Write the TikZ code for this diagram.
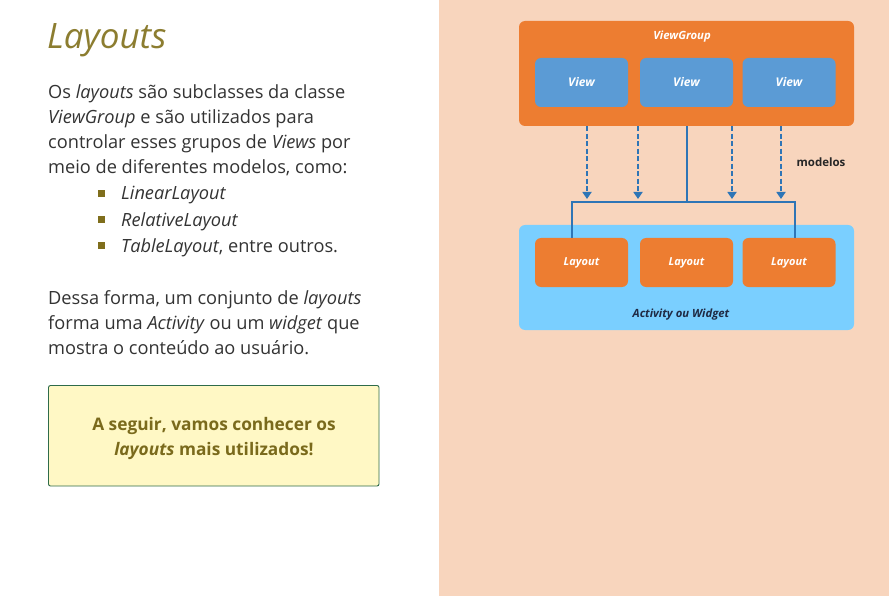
\documentclass[tikz,border=0pt]{standalone}
\usepackage{fontspec}
\setmainfont{Open Sans}
\usetikzlibrary{arrows.meta}
\definecolor{panel}{HTML}{F8D5BD}
\definecolor{titlecol}{HTML}{8C7D30}
\definecolor{bodycol}{HTML}{333333}
\definecolor{bulletcol}{HTML}{7F6E1C}
\definecolor{notefill}{HTML}{FFF8C5}
\definecolor{noteline}{HTML}{2E6B4A}
\definecolor{notetext}{HTML}{7A6A1C}
\definecolor{orangebox}{HTML}{ED7D31}
\definecolor{viewblue}{HTML}{5B9BD5}
\definecolor{skyblue}{HTML}{7ACFFF}
\definecolor{linkblue}{HTML}{2E75B6}
\definecolor{darktext}{HTML}{1F2A44}
\tikzset{
  bodyline/.style={anchor=base west, inner sep=0pt, text=bodycol,
    font=\fontsize{18.2}{22}\selectfont},
  bulletsq/.style={fill=bulletcol, minimum size=7pt, inner sep=0pt},
  notetxt/.style={anchor=base, inner sep=0pt, text=notetext,
    font=\fontsize{17.3}{21}\selectfont\bfseries},
  groupbox/.style={rounded corners=6pt, inner sep=0pt},
  itembox/.style={rounded corners=6pt, inner sep=0pt, minimum width=93pt,
    minimum height=49pt, text=white},
  viewlbl/.style={font=\fontsize{12}{14}\selectfont\bfseries\itshape},
  layoutlbl/.style={font=\fontsize{11}{13}\selectfont\bfseries\itshape},
  solidlink/.style={draw=linkblue, line width=1.8pt},
  dashlink/.style={draw=linkblue, line width=1.8pt, dash pattern=on 5pt off 2.5pt,
    -{Triangle[width=9pt,length=7pt,fill=linkblue]}},
}
\begin{document}
\begin{tikzpicture}[x=1pt,y=-1pt]
\useasboundingbox (0,0) rectangle (889,596);
\fill[white] (0,0) rectangle (439,596);
\fill[panel] (439,0) rectangle (889,596);

% ---- text column ----
\node[anchor=base west, inner sep=0pt, text=titlecol,
  font=\fontsize{35}{42}\selectfont\itshape] (title) at (47,49) {Layouts};

\node[bodyline] (p1) at (48,99) {Os \textit{layouts} são subclasses da classe};
\node[bodyline] (p2) at (48,124) {\textit{ViewGroup} e são utilizados para};
\node[bodyline] (p3) at (48,149) {controlar esses grupos de \textit{Views} por};
\node[bodyline] (p4) at (48,174) {meio de diferentes modelos, como:};

\node[bulletsq] (b1) at (101.5,193.5) {};
\node[bulletsq] (b2) at (101.5,220) {};
\node[bulletsq] (b3) at (101.5,246) {};
\node[bodyline] (l1) at (121,200) {\textit{LinearLayout}};
\node[bodyline] (l2) at (121,226.5) {\textit{RelativeLayout}};
\node[bodyline] (l3) at (121,252.5) {\textit{TableLayout}, entre outros.};

\node[bodyline] (q1) at (48,304) {Dessa forma, um conjunto de \textit{layouts}};
\node[bodyline] (q2) at (48,329) {forma uma \textit{Activity} ou um \textit{widget} que};
\node[bodyline] (q3) at (48,354) {mostra o conteúdo ao usuário.};

\draw[fill=notefill, draw=noteline, line width=0.9pt, rounded corners=2pt]
  (48.5,385.5) rectangle (379,486);
\node[notetxt] (n1) at (214,430) {A seguir, vamos conhecer os};
\node[notetxt] (n2) at (214,455) {\textit{layouts} mais utilizados!};

% ---- diagram ----
\node[groupbox, fill=orangebox, minimum width=335pt, minimum height=105pt]
  (vg) at (686.5,73.5) {};
\node[text=white, font=\fontsize{11.3}{13}\selectfont\bfseries\itshape, inner sep=0pt]
  (vglabel) at (682,37) {ViewGroup};
\node[itembox, viewlbl, fill=viewblue] (v1) at (581.5,82.5) {View};
\node[itembox, viewlbl, fill=viewblue] (v2) at (686.5,82.5) {View};
\node[itembox, viewlbl, fill=viewblue] (v3) at (789,82.5) {View};

\node[groupbox, fill=skyblue, minimum width=335pt, minimum height=105pt]
  (aw) at (686.5,277.5) {};
\node[itembox, layoutlbl, fill=orangebox] (lo1) at (581.5,262.5) {Layout};
\node[itembox, layoutlbl, fill=orangebox] (lo2) at (686.5,262.5) {Layout};
\node[itembox, layoutlbl, fill=orangebox] (lo3) at (789,262.5) {Layout};
\node[text=darktext, font=\fontsize{11.3}{13}\selectfont\bfseries\itshape, inner sep=0pt]
  (awlabel) at (681,315) {Activity ou Widget};

\node[text=black!85, font=\fontsize{11.5}{13}\selectfont\bfseries, inner sep=0pt]
  (modelos) at (821,162) {modelos};

% trunk from the group down to the layouts
\coordinate (split) at (687,202);
\draw[solidlink] (vg.south -| split) -- (split);
\draw[solidlink] (lo1.north -| 572,0) -- (572,202) -- (795,202) -- (lo3.north -| 795,0);

% dashed model arrows
\coordinate (t1) at (587,199);
\coordinate (t2) at (638,199);
\coordinate (t3) at (732,199);
\coordinate (t4) at (781,199);
\foreach \t in {t1,t2,t3,t4}
  \draw[dashlink] (vg.south -| \t) -- (\t);
\end{tikzpicture}
\end{document}
